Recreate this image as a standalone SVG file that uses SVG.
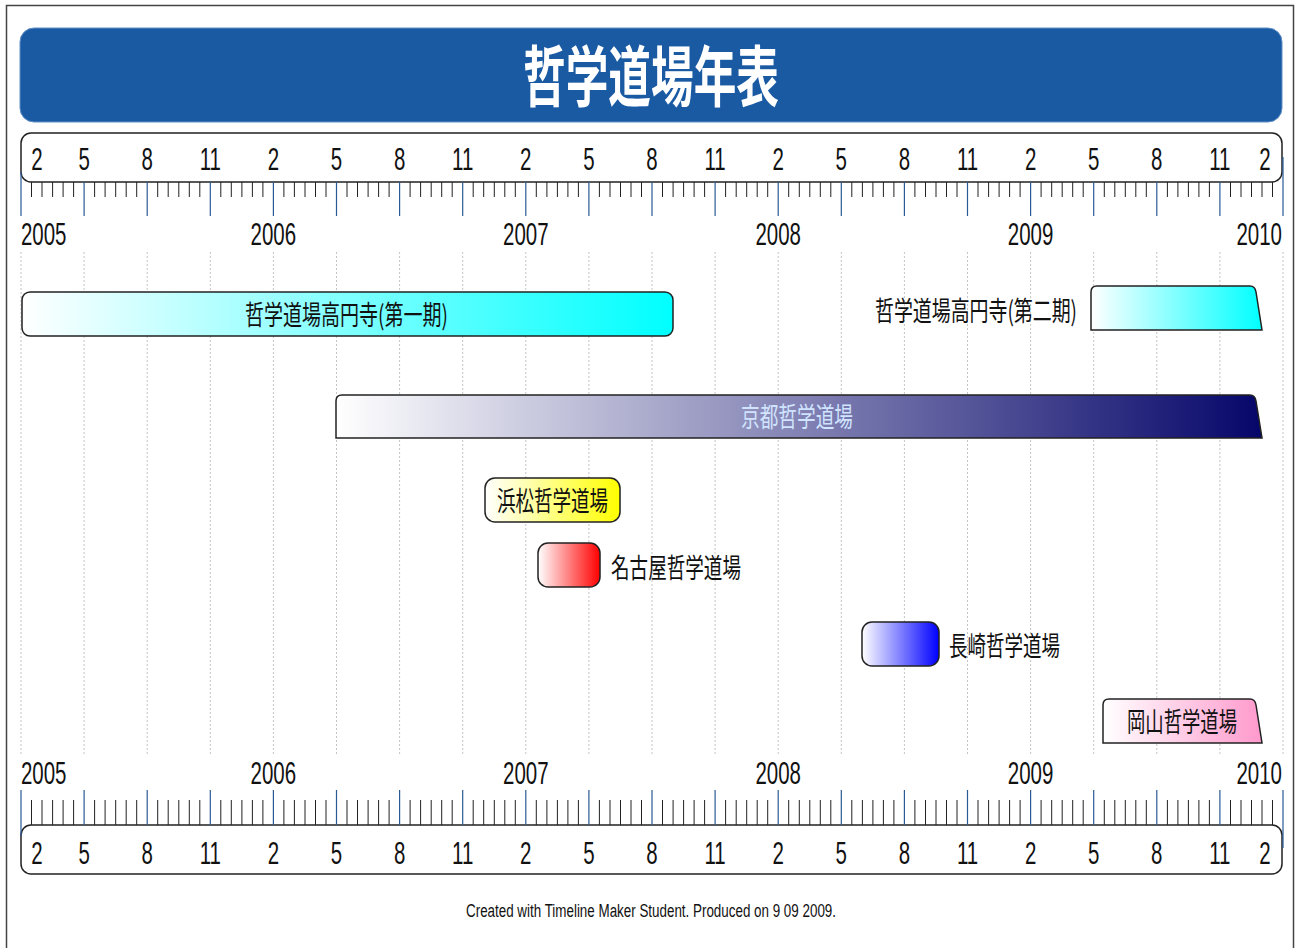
<svg xmlns="http://www.w3.org/2000/svg" width="1295" height="948" viewBox="0 0 1295 948">
<style>
.ax{font-family:"Liberation Sans",Arial,sans-serif;font-size:31px;fill:#111}
.jp{font-family:"Noto Sans CJK JP","Noto Sans CJK SC",sans-serif;font-size:27px;fill:#111}
.bar{stroke:#222;stroke-width:1.5}
.box{fill:#fff;stroke:#222;stroke-width:1.5}
.tk{stroke:#222;stroke-width:1;fill:none}
.bt{stroke:#2a5a96;stroke-width:1.2;fill:none}
.grid{stroke:#c4c4c4;stroke-width:1;stroke-dasharray:2 2;fill:none}
.foot{font-family:"Liberation Sans",Arial,sans-serif;font-size:18px;fill:#111}
</style>
<defs>
<linearGradient id="gCyan" x1="0" y1="0" x2="1" y2="0"><stop offset="0" stop-color="#ffffff"/><stop offset="1" stop-color="#00ffff"/></linearGradient>
<linearGradient id="gNavy" x1="0" y1="0" x2="1" y2="0"><stop offset="0" stop-color="#ffffff"/><stop offset="1" stop-color="#06066a"/></linearGradient>
<linearGradient id="gYellow" x1="0" y1="0" x2="1" y2="0"><stop offset="0" stop-color="#ffffff"/><stop offset="1" stop-color="#ffff00"/></linearGradient>
<linearGradient id="gRed" x1="0" y1="0" x2="1" y2="0"><stop offset="0" stop-color="#ffffff"/><stop offset="1" stop-color="#ff0000"/></linearGradient>
<linearGradient id="gBlue" x1="0" y1="0" x2="1" y2="0"><stop offset="0" stop-color="#ffffff"/><stop offset="1" stop-color="#0000ff"/></linearGradient>
<linearGradient id="gPink" x1="0" y1="0" x2="1" y2="0"><stop offset="0" stop-color="#ffffff"/><stop offset="1" stop-color="#ff99cc"/></linearGradient>
</defs>
<rect width="1295" height="948" fill="#fff"/>
<path d="M6.5 948V5.5H1293.5V948" fill="none" stroke="#444" stroke-width="1.5"/>

<g id="title">
<rect x="20" y="28" width="1262" height="94" rx="14" fill="#1a5aa3" stroke="#5f8fc6" stroke-width="1"/>
<text x="651" y="101" text-anchor="middle" textLength="256" lengthAdjust="spacingAndGlyphs" font-family="'Noto Sans CJK JP',sans-serif" font-weight="700" font-size="66" fill="#fff">哲学道場年表</text>
</g>

<g id="grid">
<path class="grid" d="M21 252V755M84.1 252V755M147.2 252V755M210.3 252V755M273.4 252V755M336.5 252V755M399.6 252V755M462.7 252V755M525.8 252V755M588.9 252V755M652 252V755M715.1 252V755M778.2 252V755M841.3 252V755M904.4 252V755M967.5 252V755M1030.6 252V755M1093.7 252V755M1156.8 252V755M1219.9 252V755M1283 252V755"/>
</g>

<g id="axis-top">
<rect class="box" x="21" y="133" width="1261" height="49" rx="10"/>
<path class="tk" d="M31.5 182v15M42 182v15M52.6 182v15M63.1 182v15M73.6 182v15M94.6 182v15M105.1 182v15M115.7 182v15M126.2 182v15M136.7 182v15M157.7 182v15M168.2 182v15M178.8 182v15M189.3 182v15M199.8 182v15M220.8 182v15M231.3 182v15M241.9 182v15M252.4 182v15M262.9 182v15M283.9 182v15M294.4 182v15M305 182v15M315.5 182v15M326 182v15M347 182v15M357.5 182v15M368.1 182v15M378.6 182v15M389.1 182v15M410.1 182v15M420.6 182v15M431.2 182v15M441.7 182v15M452.2 182v15M473.2 182v15M483.7 182v15M494.3 182v15M504.8 182v15M515.3 182v15M536.3 182v15M546.9 182v15M557.4 182v15M567.9 182v15M578.4 182v15M599.4 182v15M610 182v15M620.5 182v15M631 182v15M641.5 182v15M662.5 182v15M673.1 182v15M683.6 182v15M694.1 182v15M704.6 182v15M725.6 182v15M736.2 182v15M746.7 182v15M757.2 182v15M767.7 182v15M788.7 182v15M799.3 182v15M809.8 182v15M820.3 182v15M830.8 182v15M851.8 182v15M862.4 182v15M872.9 182v15M883.4 182v15M893.9 182v15M914.9 182v15M925.5 182v15M936 182v15M946.5 182v15M957 182v15M978 182v15M988.6 182v15M999.1 182v15M1009.6 182v15M1020.1 182v15M1041.1 182v15M1051.7 182v15M1062.2 182v15M1072.7 182v15M1083.2 182v15M1104.3 182v15M1114.8 182v15M1125.3 182v15M1135.8 182v15M1146.3 182v15M1167.4 182v15M1177.9 182v15M1188.4 182v15M1198.9 182v15M1209.4 182v15M1230.5 182v15M1241 182v15M1251.5 182v15M1262 182v15M1272.5 182v15"/>
<path class="bt" d="M21 172V216M84.1 182V216M147.2 182V216M210.3 182V216M273.4 182V216M336.5 182V216M399.6 182V216M462.7 182V216M525.8 182V216M588.9 182V216M652 182V216M715.1 182V216M778.2 182V216M841.3 182V216M904.4 182V216M967.5 182V216M1030.6 182V216M1093.7 182V216M1156.8 182V216M1219.9 182V216M1283 157V216"/>
<g transform="scale(0.66 1)" class="ax" text-anchor="middle">
<text x="56.1" y="170">2</text><text x="127.4" y="170">5</text><text x="223" y="170">8</text><text x="318.6" y="170">11</text>
<text x="414.2" y="170">2</text><text x="509.8" y="170">5</text><text x="605.5" y="170">8</text><text x="701.1" y="170">11</text>
<text x="796.7" y="170">2</text><text x="892.3" y="170">5</text><text x="987.9" y="170">8</text><text x="1083.5" y="170">11</text>
<text x="1179.1" y="170">2</text><text x="1274.7" y="170">5</text><text x="1370.3" y="170">8</text><text x="1465.9" y="170">11</text>
<text x="1561.5" y="170">2</text><text x="1657.1" y="170">5</text><text x="1752.7" y="170">8</text><text x="1848.3" y="170">11</text>
<text x="1916.7" y="170">2</text>
<text x="31.8" y="245" text-anchor="start">2005</text>
<text x="414.2" y="245">2006</text><text x="796.7" y="245">2007</text><text x="1179.1" y="245">2008</text><text x="1561.5" y="245">2009</text>
<text x="1942.4" y="245" text-anchor="end">2010</text>
</g>
</g>

<g id="axis-bottom">
<rect class="box" x="21" y="825" width="1261" height="49" rx="10"/>
<path class="tk" d="M31.5 800v25M42 800v25M52.6 800v25M63.1 800v25M73.6 800v25M94.6 800v25M105.1 800v25M115.7 800v25M126.2 800v25M136.7 800v25M157.7 800v25M168.2 800v25M178.8 800v25M189.3 800v25M199.8 800v25M220.8 800v25M231.3 800v25M241.9 800v25M252.4 800v25M262.9 800v25M283.9 800v25M294.4 800v25M305 800v25M315.5 800v25M326 800v25M347 800v25M357.5 800v25M368.1 800v25M378.6 800v25M389.1 800v25M410.1 800v25M420.6 800v25M431.2 800v25M441.7 800v25M452.2 800v25M473.2 800v25M483.7 800v25M494.3 800v25M504.8 800v25M515.3 800v25M536.3 800v25M546.9 800v25M557.4 800v25M567.9 800v25M578.4 800v25M599.4 800v25M610 800v25M620.5 800v25M631 800v25M641.5 800v25M662.5 800v25M673.1 800v25M683.6 800v25M694.1 800v25M704.6 800v25M725.6 800v25M736.2 800v25M746.7 800v25M757.2 800v25M767.7 800v25M788.7 800v25M799.3 800v25M809.8 800v25M820.3 800v25M830.8 800v25M851.8 800v25M862.4 800v25M872.9 800v25M883.4 800v25M893.9 800v25M914.9 800v25M925.5 800v25M936 800v25M946.5 800v25M957 800v25M978 800v25M988.6 800v25M999.1 800v25M1009.6 800v25M1020.1 800v25M1041.1 800v25M1051.7 800v25M1062.2 800v25M1072.7 800v25M1083.2 800v25M1104.3 800v25M1114.8 800v25M1125.3 800v25M1135.8 800v25M1146.3 800v25M1167.4 800v25M1177.9 800v25M1188.4 800v25M1198.9 800v25M1209.4 800v25M1230.5 800v25M1241 800v25M1251.5 800v25M1262 800v25M1272.5 800v25"/>
<path class="bt" d="M21 790V836M84.1 790V825M147.2 790V825M210.3 790V825M273.4 790V825M336.5 790V825M399.6 790V825M462.7 790V825M525.8 790V825M588.9 790V825M652 790V825M715.1 790V825M778.2 790V825M841.3 790V825M904.4 790V825M967.5 790V825M1030.6 790V825M1093.7 790V825M1156.8 790V825M1219.9 790V825M1283 790V848"/>
<g transform="scale(0.66 1)" class="ax" text-anchor="middle">
<text x="56.1" y="864">2</text><text x="127.4" y="864">5</text><text x="223" y="864">8</text><text x="318.6" y="864">11</text>
<text x="414.2" y="864">2</text><text x="509.8" y="864">5</text><text x="605.5" y="864">8</text><text x="701.1" y="864">11</text>
<text x="796.7" y="864">2</text><text x="892.3" y="864">5</text><text x="987.9" y="864">8</text><text x="1083.5" y="864">11</text>
<text x="1179.1" y="864">2</text><text x="1274.7" y="864">5</text><text x="1370.3" y="864">8</text><text x="1465.9" y="864">11</text>
<text x="1561.5" y="864">2</text><text x="1657.1" y="864">5</text><text x="1752.7" y="864">8</text><text x="1848.3" y="864">11</text>
<text x="1916.7" y="864">2</text>
<text x="31.8" y="784" text-anchor="start">2005</text>
<text x="414.2" y="784">2006</text><text x="796.7" y="784">2007</text><text x="1179.1" y="784">2008</text><text x="1561.5" y="784">2009</text>
<text x="1942.4" y="784" text-anchor="end">2010</text>
</g>
</g>

<g id="koenji-1">
<rect class="bar" x="22" y="292" width="651" height="44" rx="8" fill="url(#gCyan)"/>
<text class="jp" x="245" y="325" textLength="203" lengthAdjust="spacingAndGlyphs">哲学道場高円寺(第一期)</text>
</g>
<g id="koenji-2">
<path class="bar" d="M1091 330V292Q1091 286 1097 286H1250Q1255 286 1256 292L1262 330Z" fill="url(#gCyan)"/>
<text class="jp" x="875" y="321" textLength="202" lengthAdjust="spacingAndGlyphs">哲学道場高円寺(第二期)</text>
</g>
<g id="kyoto">
<path class="bar" d="M336 438V401Q336 395 342 395H1250Q1255 395 1256 401L1262 438Z" fill="url(#gNavy)"/>
<text class="jp" x="741" y="427" textLength="112" lengthAdjust="spacingAndGlyphs" fill="#d0e4ff" style="fill:#d0e4ff">京都哲学道場</text>
</g>
<g id="hamamatsu">
<rect class="bar" x="485" y="478" width="135" height="44" rx="10" fill="url(#gYellow)"/>
<text class="jp" x="497" y="511" textLength="111" lengthAdjust="spacingAndGlyphs">浜松哲学道場</text>
</g>
<g id="nagoya">
<rect class="bar" x="538" y="543" width="62" height="44" rx="10" fill="url(#gRed)"/>
<text class="jp" x="611" y="578" textLength="130" lengthAdjust="spacingAndGlyphs">名古屋哲学道場</text>
</g>
<g id="nagasaki">
<rect class="bar" x="862" y="622" width="77" height="44" rx="10" fill="url(#gBlue)"/>
<text class="jp" x="949" y="656" textLength="111" lengthAdjust="spacingAndGlyphs">長崎哲学道場</text>
</g>
<g id="okayama">
<path class="bar" d="M1103 743V705Q1103 699 1109 699H1250Q1255 699 1256 705L1262 743Z" fill="url(#gPink)"/>
<text class="jp" x="1127" y="732" textLength="110" lengthAdjust="spacingAndGlyphs">岡山哲学道場</text>
</g>

<text class="foot" x="651" y="917" text-anchor="middle" textLength="370" lengthAdjust="spacingAndGlyphs">Created with Timeline Maker Student. Produced on 9 09 2009.</text>
</svg>
